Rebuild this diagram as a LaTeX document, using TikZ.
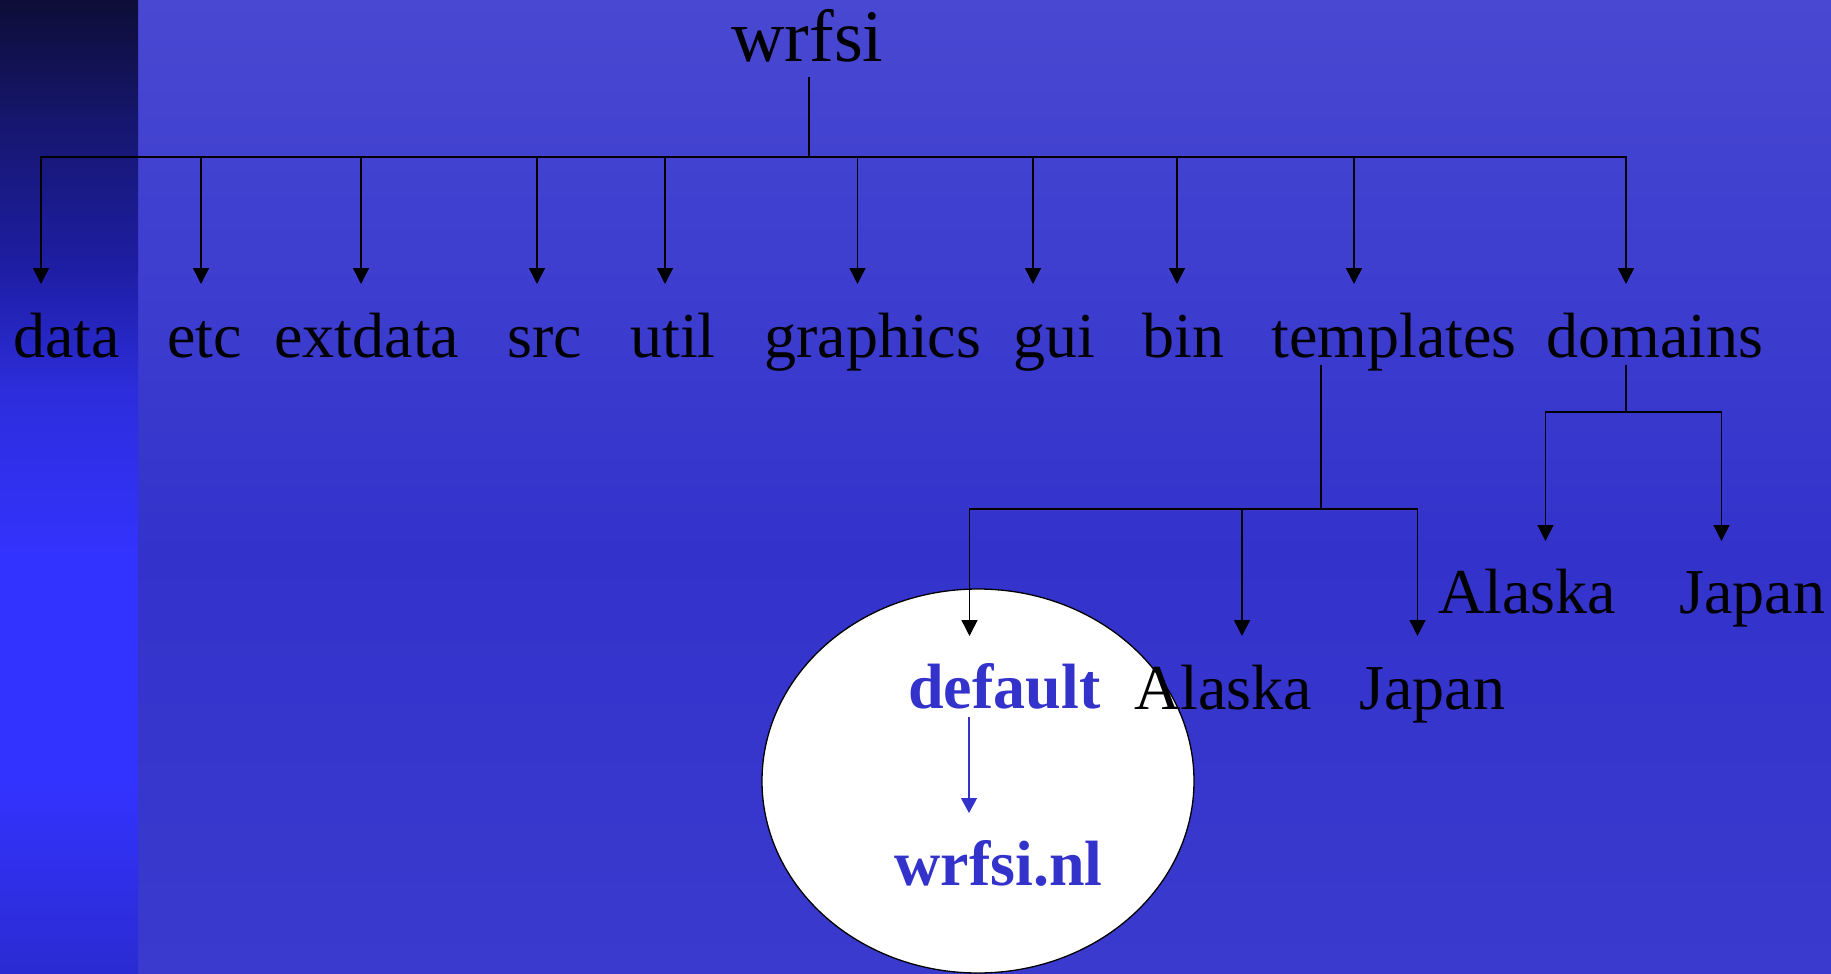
\documentclass[tikz,border=0pt]{standalone}
\usepackage{fontspec}
\setmainfont{Liberation Serif}
\usetikzlibrary{arrows.meta,shapes.geometric}
% slide colours
\definecolor{mainA}{RGB}{72,72,210}
\definecolor{mainB}{RGB}{51,51,204}
\definecolor{mainC}{RGB}{58,58,206}
\definecolor{barA}{RGB}{13,13,55}
\definecolor{barB}{RGB}{22,22,110}
\definecolor{barC}{RGB}{30,30,165}
\definecolor{barD}{RGB}{45,45,220}
\definecolor{barE}{RGB}{51,51,255}
\definecolor{barF}{RGB}{43,43,210}
\definecolor{hitext}{RGB}{51,51,204}
\begin{document}
\begin{tikzpicture}[x=0.5pt,y=-0.5pt,
  lbl/.style={anchor=base west, inner sep=0pt, font=\fontsize{32}{38}\selectfont},
  rootlbl/.style={anchor=base west, inner sep=0pt, font=\fontsize{37}{44}\selectfont},
  hilite/.style={lbl, font=\fontsize{32}{38}\selectfont\bfseries, text=hitext},
  link/.style={draw=black, line width=0.75pt},
  arr/.style={link, -{Triangle[width=8pt,length=8pt]}},
  bluearr/.style={draw=hitext, line width=0.6pt, -{Triangle[width=8pt,length=7.5pt]}},
  bubble/.style={ellipse, draw=black, line width=0.65pt, fill=white, inner sep=0pt,
                 minimum width=216pt, minimum height=192pt},
]
\useasboundingbox (0,0) rectangle (1831,974);

% background: main field
\shade[top color=mainA, bottom color=mainB] (137,-1) rectangle (1832,551);
\shade[top color=mainB, bottom color=mainC] (137,550) rectangle (1832,975);
% background: dark side band
\shade[top color=barA, bottom color=barB] (-1,-1) rectangle (138,121);
\shade[top color=barB, bottom color=barC] (-1,120) rectangle (138,271);
\shade[top color=barC, bottom color=barD] (-1,270) rectangle (138,391);
\shade[top color=barD, bottom color=barE] (-1,390) rectangle (138,561);
\fill[barE] (-1,560) rectangle (138,781);
\shade[top color=barE, bottom color=barF] (-1,780) rectangle (138,975);

% highlighted subfolder
\node[bubble] (bubble) at (978,781) {};

% labels
\node[rootlbl] (root) at (731,62) {wrfsi};

\node[lbl] (data)      at (13,357)   {data};
\node[lbl] (etc)       at (167,357)  {etc};
\node[lbl] (extdata)   at (274,357)  {extdata};
\node[lbl] (src)       at (507,357)  {src};
\node[lbl] (util)      at (630,357)  {util};
\node[lbl] (graphics)  at (764,357)  {graphics};
\node[lbl] (gui)       at (1013,357) {gui};
\node[lbl] (bin)       at (1142,357) {bin};
\node[lbl] (templates) at (1271,357) {templates};
\node[lbl] (domains)   at (1546,357) {domains};

\node[hilite] (default) at (908,708) {default};
\node[lbl] (tAlaska) at (1134,709) {Alaska};
\node[lbl] (tJapan)  at (1359,709) {Japan};
\node[hilite] (nl) at (894,885) {wrfsi.nl};

\node[lbl] (dAlaska) at (1438,613) {Alaska};
\node[lbl] (dJapan)  at (1679,613) {Japan};

% junction points and arrow tips
\coordinate (rootstem) at (809,77);
\coordinate (bar) at (809,157);
\coordinate (tData)  at (41,284);
\coordinate (tEtc)   at (201,284);
\coordinate (tExt)   at (361,284);
\coordinate (tSrc)   at (537,284);
\coordinate (tUtil)  at (665,284);
\coordinate (tGraph) at (857.5,284);
\coordinate (tGui)   at (1033,284);
\coordinate (tBin)   at (1177,284);
\coordinate (tTpl)   at (1354,284);
\coordinate (tDom)   at (1626,284);

\coordinate (tplstem) at (1321,365);
\coordinate (tplbar)  at (1321,509);
\coordinate (tDef)    at (969.5,636);
\coordinate (tTA)     at (1242,636);
\coordinate (tTJ)     at (1417.5,636);

\coordinate (domstem) at (1626,365);
\coordinate (dombar)  at (1626,412);
\coordinate (tDA)     at (1545.5,541);
\coordinate (tDJ)     at (1721.5,541);

\coordinate (defout) at (969,717);
\coordinate (nltip)  at (969,813);

% top level tree
\draw[link] (rootstem) -- (bar);
\draw[arr] (bar) -| (tData);
\draw[arr] (bar) -| (tDom);
\foreach \t in {tEtc,tExt,tSrc,tUtil,tGraph,tGui,tBin,tTpl}
  \draw[arr] (\t |- bar) -- (\t);

% templates subtree
\draw[link] (tplstem) -- (tplbar);
\draw[arr] (tplbar) -| (tDef);
\draw[arr] (tplbar) -| (tTJ);
\draw[arr] (tTA |- tplbar) -- (tTA);

% domains subtree
\draw[link] (domstem) -- (dombar);
\draw[arr] (dombar) -| (tDA);
\draw[arr] (dombar) -| (tDJ);

% default namelist
\draw[bluearr] (defout) -- (nltip);
\end{tikzpicture}
\end{document}
